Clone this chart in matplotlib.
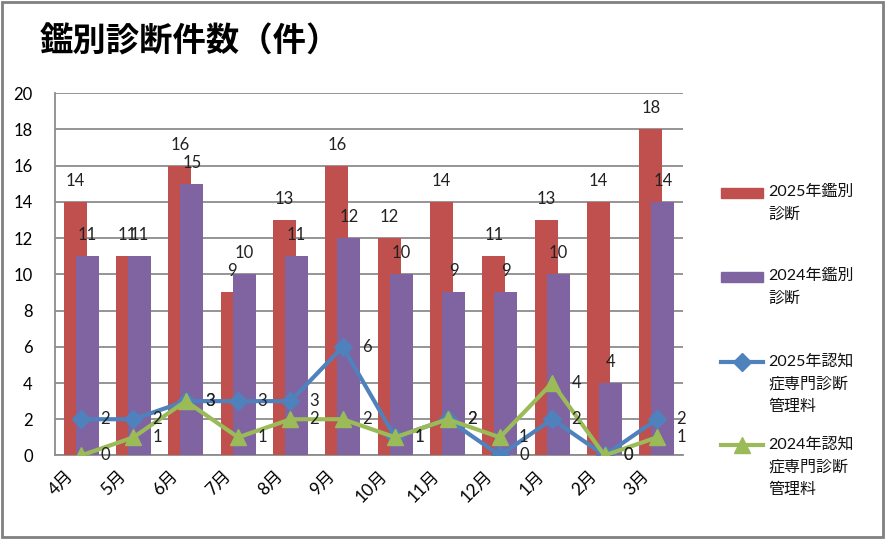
import numpy as np
import matplotlib
matplotlib.use("Agg")
import matplotlib.pyplot as plt
import matplotlib.transforms as mtransforms
from matplotlib.lines import Line2D
from matplotlib.patches import Rectangle

plt.rcParams['font.family'] = ['Lato', 'Noto Sans CJK JP', 'DejaVu Sans']

##  データ
months = ['4月', '5月', '6月', '7月', '8月', '9月', '10月', '11月', '12月', '1月', '2月', '3月']
kanbetsu_2025 = [14, 11, 16, 9, 13, 16, 12, 14, 11, 13, 14, 18]
kanbetsu_2024 = [11, 11, 15, 10, 11, 12, 10, 9, 9, 10, 4, 14]
ninchi_2025 = [2, 2, 3, 3, 3, 6, 1, 2, 0, 2, 0, 2]
ninchi_2024 = [0, 1, 3, 1, 2, 2, 1, 2, 1, 4, 0, 1]

labels = ['2025年鑑別\n診断', '2024年鑑別\n診断',
          '2025年認知\n症専門診断\n管理料', '2024年認知\n症専門診断\n管理料']
yticks = list(range(0, 21, 2))

red = '#C0504D'
purple = '#8064A2'
blue = '#4F81BD'
green = '#9BBB59'
grid_c = '#8C8C8C'

fig = plt.figure(figsize=(8.86, 5.39), dpi=100)
ax = fig.add_axes([0.062, 0.155, 0.709, 0.672])

x = np.arange(len(months))
w = 0.44
off = 0.115
ax.bar(x - off, kanbetsu_2025, width=w, color=red, zorder=2)
ax.bar(x + off, kanbetsu_2024, width=w, color=purple, zorder=3)
ax.plot(x, ninchi_2025, color=blue, lw=3, marker='D', ms=9, zorder=4)
ax.plot(x, ninchi_2024, color=green, lw=3, marker='^', ms=11, zorder=5)

##  データラベル
for xi, v in zip(x, kanbetsu_2025):
    ax.annotate(str(v), (xi - off, v), xytext=(0, 21), textcoords='offset pixels',
                ha='center', va='center', fontsize=12, color='#222222', zorder=6)
for xi, v in zip(x, kanbetsu_2024):
    ax.annotate(str(v), (xi + off, v), xytext=(0, 21), textcoords='offset pixels',
                ha='center', va='center', fontsize=12, color='#222222', zorder=6)
for xi, v in zip(x, ninchi_2025):
    ax.annotate(str(v), (xi, v), xytext=(24, 0), textcoords='offset pixels',
                ha='center', va='center', fontsize=12, color='#222222', zorder=6)
for xi, v in zip(x, ninchi_2024):
    ax.annotate(str(v), (xi, v), xytext=(24, 0), textcoords='offset pixels',
                ha='center', va='center', fontsize=12, color='#222222', zorder=6)

ax.set_xlim(-0.5, len(months) - 0.5)
ax.set_ylim(0, 20)
ax.set_yticks(yticks)
ax.set_yticklabels([str(t) for t in yticks], fontsize=12)
ax.set_xticks(x)
ax.set_xticklabels(months, fontsize=12.5, rotation=45, ha='right', rotation_mode='anchor')
ax.tick_params(axis='both', length=0)
ax.tick_params(axis='y', pad=16)
ax.tick_params(axis='x', pad=9)
shift = mtransforms.ScaledTranslation(-16 / 100, 0, fig.dpi_scale_trans)
for t in ax.get_xticklabels():
    t.set_transform(t.get_transform() + shift)
ax.yaxis.grid(True, color=grid_c, lw=1.3, zorder=0)
ax.set_axisbelow(True)
for s in ['top', 'right']:
    ax.spines[s].set_visible(False)
for s in ['left', 'bottom']:
    ax.spines[s].set_color(grid_c)
    ax.spines[s].set_linewidth(1.3)
ax.spines['bottom'].set_zorder(1)

##  タイトル
fig.text(0.045, 0.925, '鑑別診断件数（件）', fontsize=24, fontweight='bold', va='center', ha='left')

##  凡例（手動）
tx = 768 / 886
hx0, hx1 = 721 / 886, 763 / 886
ys = [193, 277, 362, 445]
for i, (lab, y) in enumerate(zip(labels, ys)):
    yf = 1 - y / 539
    if i == 0:
        fig.patches.append(Rectangle((hx0, yf - 5 / 539), hx1 - hx0, 10 / 539,
                                     transform=fig.transFigure, color=red))
    elif i == 1:
        fig.patches.append(Rectangle((hx0, yf - 5 / 539), hx1 - hx0, 10 / 539,
                                     transform=fig.transFigure, color=purple))
    elif i == 2:
        fig.lines.append(Line2D([hx0, (hx0 + hx1) / 2, hx1], [yf, yf, yf], transform=fig.transFigure,
                                color=blue, lw=3, marker='D', ms=9, markevery=[1]))
    else:
        fig.lines.append(Line2D([hx0, (hx0 + hx1) / 2, hx1], [yf, yf, yf], transform=fig.transFigure,
                                color=green, lw=3, marker='^', ms=11, markevery=[1]))
    fig.text(tx, yf + 8 / 539, lab, fontsize=11.5, va='top', ha='left', linespacing=1.7, color='#111111')

##  枠
fig.patches.append(Rectangle((0.002, 0.003), 0.995, 0.994, transform=fig.transFigure,
                             fill=False, edgecolor='#808080', lw=2))

fig.savefig('out.png', dpi=100)
